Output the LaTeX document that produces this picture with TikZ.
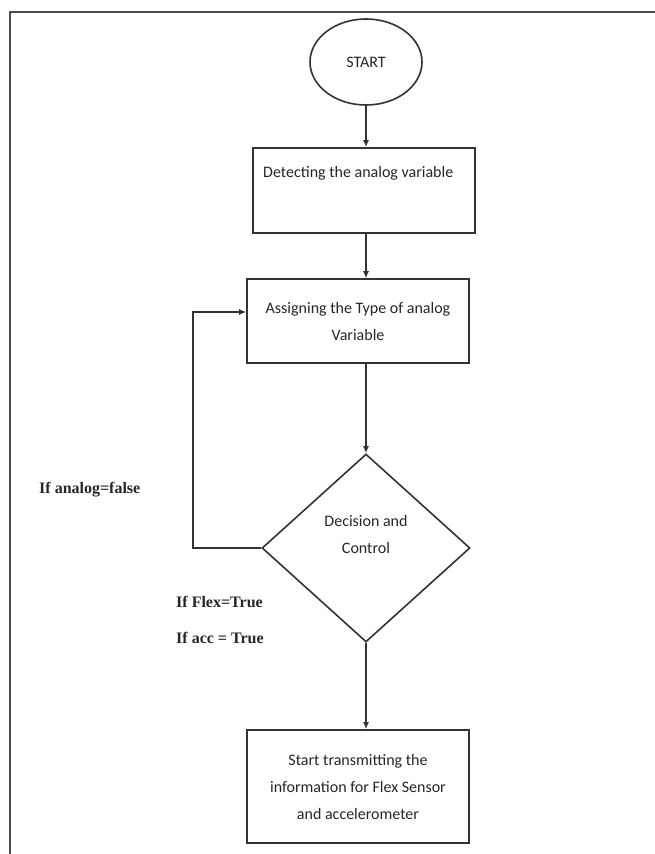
\documentclass[tikz,border=0pt]{standalone}
\usepackage{fontspec}
\setmainfont{Carlito}
\newfontfamily\condserif{Liberation Serif}
\usetikzlibrary{arrows.meta,shapes.geometric}

\begin{document}
\begin{tikzpicture}[x=1pt,y=-1pt,>={Latex[length=7pt,width=6pt]},
  font=\fontsize{16}{27}\selectfont,text=black!85,
  line/.style={draw=black!80,line width=1.6pt},
  box/.style={line,rectangle,inner sep=0pt},
  cond/.style={font=\fontsize{16}{20}\selectfont\condserif\bfseries,anchor=west,inner sep=0pt},
  flow/.style={line,->}]
  \useasboundingbox (0,0) rectangle (655,854);

  % ================= frame =================
  \draw[black!70,line width=1.8pt] (655,12) -- (10,12) -- (10,854);

  % ================= blocks =================
  \node[line,ellipse,minimum width=112,minimum height=86,inner sep=0pt] (start) at (366,62) {START};

  \node[box,minimum width=222,minimum height=85] (detect) at (364,190.5) {};
  \node[anchor=base west,inner sep=0pt] (detecttext) at (263,177) {Detecting the analog variable};

  \node[box,minimum width=222,minimum height=84,align=center] (assign) at (358,321)
    {Assigning the Type of analog\\Variable};

  \node[line,diamond,minimum width=208,minimum height=188,inner sep=0pt] (dec) at (366,548) {};
  \node[align=center,inner sep=0pt] (dectext) at (366,534) {Decision and\\Control};

  \node[box,minimum width=222,minimum height=113,align=center] (send) at (358,786.5)
    {Start transmitting the\\information for Flex Sensor\\and accelerometer};

  % ================= conditions =================
  \node[cond] (nofalse) at (39,490) {If analog=false};
  \node[cond] (flex) at (176,602) {If Flex=True};
  \node[cond] (acc) at (176,638) {If acc = True};

  % ================= connectors =================
  \coordinate (loop) at (193,312);
  \draw[flow] (start.south) -- (start.south |- detect.north);
  \draw[flow] (detect.south -| dec.north) -- (assign.north -| dec.north);
  \draw[flow] (assign.south -| dec.north) -- (dec.north);
  \draw[flow] (dec.west) -| (loop) -- (loop -| assign.west);
  \draw[flow] (dec.south) -- (dec.south |- send.north);
\end{tikzpicture}
\end{document}
